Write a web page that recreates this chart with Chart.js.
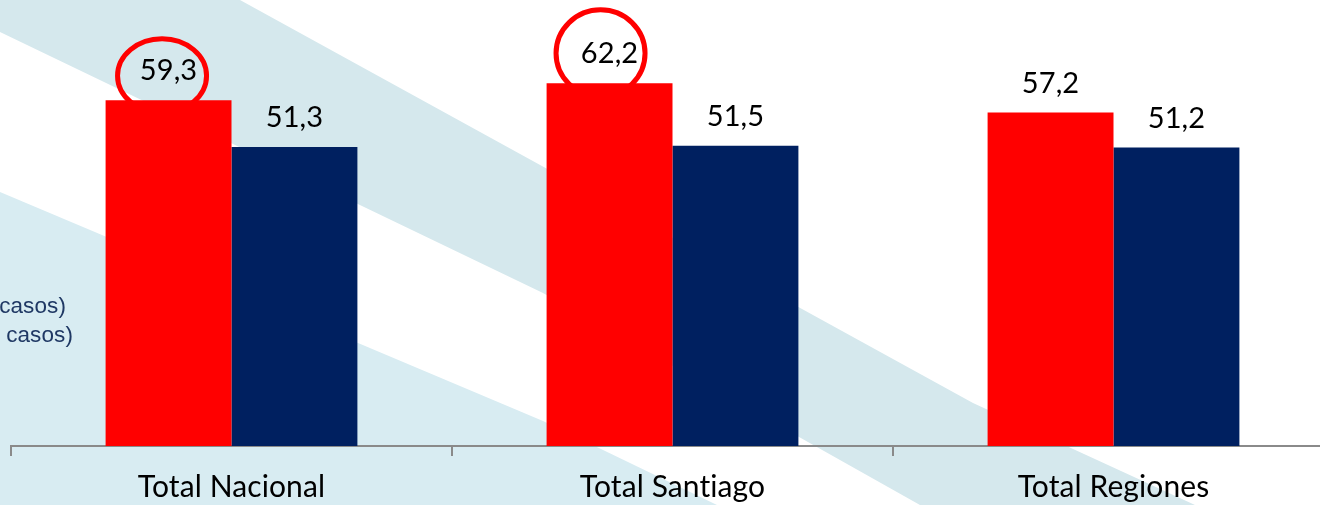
<!DOCTYPE html>
<html>
<head>
<meta charset="utf-8">
<script src="https://cdn.jsdelivr.net/npm/chart.js@4"></script>
<style>
html, body { margin: 0; padding: 0; overflow: hidden; background: #fff; }
#wrap { position: relative; width: 1320px; height: 505px; overflow: hidden; }
canvas { position: absolute; left: 0; top: 0; }
</style>
</head>
<body>
<div id="wrap"><canvas id="barChart" width="1340" height="505"></canvas></div>
<script>
const categories = ['Total Nacional', 'Total Santiago', 'Total Regiones'];
const redValues = [59.3, 62.2, 57.2];
const blueValues = [51.3, 51.5, 51.2];
// what is left of the legend, cut off by the left edge
const legendTexts = ['casos)', ' casos)'];
// red bars whose label is circled
const circled = [0, 1];

const fmt = (v) => v.toFixed(1).replace('.', ',');

// light blue diagonal bands behind the chart
const background = {
    id: 'background',
    beforeDraw(chart) {
        const { ctx, width, height } = chart;
        ctx.save();
        ctx.fillStyle = '#ffffff';
        ctx.fillRect(0, 0, width, height);
        ctx.fillStyle = '#d5e8ed';
        ctx.beginPath();
        ctx.moveTo(0, 0);
        ctx.lineTo(240, 0);
        ctx.lineTo(973, 403);
        ctx.lineTo(1195, 505);
        ctx.lineTo(920, 505);
        ctx.lineTo(543, 293);
        ctx.lineTo(0, 32);
        ctx.closePath();
        ctx.fill();
        ctx.fillStyle = '#d8ecf2';
        ctx.beginPath();
        ctx.moveTo(0, 192);
        ctx.lineTo(543, 421);
        ctx.lineTo(717, 505);
        ctx.lineTo(0, 505);
        ctx.closePath();
        ctx.fill();
        ctx.restore();
        // a tiny spacing keeps Lato from joining "ti"
        if ('letterSpacing' in ctx) ctx.letterSpacing = '0.1px';
    }
};

// red rings round the highlighted labels, drawn under the bars
const rings = {
    id: 'rings',
    beforeDatasetsDraw(chart) {
        const { ctx } = chart;
        const meta = chart.getDatasetMeta(0);
        const shape = [
            { dx: -6.5, dy: -24.5, rx: 44.5, ry: 37 },
            { dx: -9, dy: -30, rx: 44.5, ry: 43.5 }
        ];
        ctx.save();
        ctx.strokeStyle = '#ff0000';
        ctx.lineWidth = 5;
        circled.forEach((idx, k) => {
            const bar = meta.data[idx];
            const s = shape[k];
            ctx.beginPath();
            ctx.ellipse(bar.x + s.dx, bar.y + s.dy, s.rx, s.ry, 0, 0, Math.PI * 2);
            ctx.stroke();
        });
        ctx.restore();
    }
};

const valueLabels = {
    id: 'valueLabels',
    afterDatasetsDraw(chart) {
        const { ctx } = chart;
        ctx.save();
        ctx.font = '29px Lato';
        ctx.fillStyle = '#000000';
        ctx.textAlign = 'center';
        ctx.textBaseline = 'alphabetic';
        chart.data.datasets.forEach((ds, i) => {
            chart.getDatasetMeta(i).data.forEach((bar, j) => {
                ctx.fillText(fmt(ds.data[j]), bar.x, bar.y - 20);
            });
        });
        ctx.restore();
    }
};

const legendStub = {
    id: 'legendStub',
    afterDraw(chart) {
        const { ctx } = chart;
        ctx.save();
        ctx.font = '22.5px "Liberation Sans"';
        ctx.fillStyle = '#1f3864';
        ctx.textAlign = 'right';
        ctx.textBaseline = 'alphabetic';
        ctx.fillText(legendTexts[0], 66, 313);
        ctx.fillText(legendTexts[1], 73, 342);
        ctx.restore();
    }
};

new Chart(document.getElementById('barChart'), {
    type: 'bar',
    data: {
        labels: categories,
        datasets: [{
            data: redValues,
            backgroundColor: '#ff0000',
            borderWidth: 0,
            categoryPercentage: 0.571,
            barPercentage: 1
        }, {
            data: blueValues,
            backgroundColor: '#002060',
            borderWidth: 0,
            categoryPercentage: 0.571,
            barPercentage: 1
        }]
    },
    options: {
        responsive: false,
        animation: false,
        devicePixelRatio: 1,
        layout: {
            padding: { left: 11, right: 6, top: 0, bottom: 0 }
        },
        scales: {
            x: {
                afterFit: (scale) => { scale.height = 59; },
                border: { display: true, color: '#8a8a8a', width: 2 },
                grid: {
                    display: true,
                    drawOnChartArea: false,
                    drawTicks: true,
                    tickLength: 10,
                    color: '#8a8a8a',
                    lineWidth: 2
                },
                ticks: {
                    color: '#000000',
                    padding: 13,
                    font: { size: 30, family: 'Lato' }
                }
            },
            y: {
                display: false,
                min: 0,
                max: 76.5
            }
        },
        plugins: {
            legend: { display: false },
            title: { display: false },
            tooltip: { enabled: false }
        }
    },
    plugins: [background, rings, valueLabels, legendStub]
});
</script>
</body>
</html>
